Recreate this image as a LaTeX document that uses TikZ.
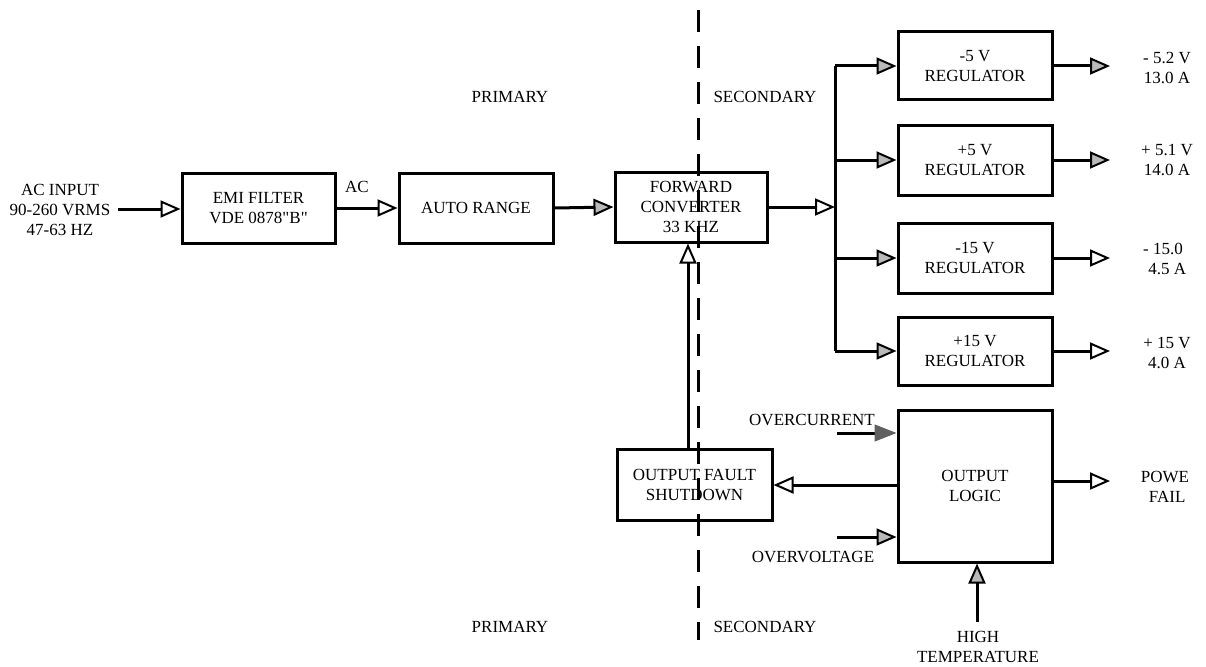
\documentclass[tikz,border=0pt]{standalone}
\usepackage{fontspec}
\setmainfont{Liberation Serif}[Ligatures=TeXOff]
\usetikzlibrary{arrows.meta}
\begin{document}
\begin{tikzpicture}[x=1pt,y=-1pt,
  every node/.style={font=\fontsize{17}{20}\selectfont, align=center, inner sep=0pt},
  blk/.style={draw, line width=3pt, rectangle, minimum width=153pt, minimum height=70pt},
  conn/.style={line width=3pt},
  oarr/.style={conn, -{Triangle[length=20pt, width=17pt, line width=2pt, fill=white]}},
  garr/.style={conn, -{Triangle[length=20pt, width=17pt, line width=2pt, fill=gray!55]}},
  carr/.style={conn, -{Triangle[length=22pt, width=17pt, line width=1pt, color=gray!75!black]}},
  divider/.style={line width=3pt, dash pattern=on 22pt off 14pt},
  lbl/.style={}
]
\useasboundingbox (0,0) rectangle (1206,666);

% primary / secondary divider
\coordinate (dtop) at (698,10);
\coordinate (dbot) at (698,640);
\draw[divider] (dtop) -- (dbot);
\node[lbl] (prim1) at (510,97) {PRIMARY};
\node[lbl] (sec1) at (765,97) {SECONDARY};
\node[lbl] (prim2) at (510,627) {PRIMARY};
\node[lbl] (sec2) at (765,627) {SECONDARY};

% main chain
\node[lbl] (acin) at (60,210) {AC INPUT\\90-260 VRMS\\47-63 HZ};
\node[blk] (emi) at (258.5,208) {EMI FILTER\\VDE 0878"B"};
\node[blk, minimum width=154pt] (auto) at (476,208) {AUTO RANGE};
\node[blk, minimum width=152pt] (fwd) at (691,207) {FORWARD\\CONVERTER\\33 KHZ};
\node[lbl] (aclbl) at (357,187) {AC};

\coordinate (acstart) at (118,209);
\draw[oarr] (acstart) -- (acstart -| emi.west);
\draw[oarr] (emi.east) -- (auto.west);
\draw[garr] (auto.east) -- (fwd.west);

% regulators
\node[blk, minimum width=154pt, minimum height=68pt] (r1) at (975,66) {-5 V\\REGULATOR};
\node[blk, minimum width=154pt] (r2) at (975,160) {+5 V\\REGULATOR};
\node[blk, minimum width=154pt] (r3) at (975,258) {-15 V\\REGULATOR};
\node[blk, minimum width=154pt, minimum height=68pt] (r4) at (975,351) {+15 V\\REGULATOR};

\coordinate (bt) at (835,66);
\coordinate (bb) at (835,351);
\draw[oarr] (fwd.east) -- (fwd.east -| bt);
\draw[conn] (bt) -- (bb);
\draw[garr] (bt) -- (r1.west);
\draw[garr] (bt |- r2.west) -- (r2.west);
\draw[garr] (bt |- r3.west) -- (r3.west);
\draw[garr] (bt |- r4.west) -- (r4.west);

\coordinate (oe) at (1110,0);
\draw[garr] (r1.east) -- (r1.east -| oe);
\draw[garr] (r2.east) -- (r2.east -| oe);
\draw[oarr] (r3.east) -- (r3.east -| oe);
\draw[oarr] (r4.east) -- (r4.east -| oe);
\node[lbl] (o1) at (1167,68) {- 5.2 V\\13.0 A};
\node[lbl] (o2) at (1167,160) {+ 5.1 V\\14.0 A};
\node[lbl] (o3) at (1163,259) {- 15.0\\\ \ 4.5 A};
\node[lbl] (o4) at (1167,353) {+ 15 V\\4.0 A};

% fault path
\node[blk, minimum width=155pt, minimum height=71pt] (shut) at (694.5,484.5) {OUTPUT FAULT\\SHUTDOWN};
\node[blk, minimum width=154pt, minimum height=152pt] (logic) at (975,486) {OUTPUT\\LOGIC};

\coordinate (vx) at (688,0);
\draw[oarr] (shut.north -| vx) -- (fwd.south -| vx);
\draw[oarr] (logic.west |- 0,485) -- (shut.east |- 0,485);

\node[lbl] (ocl) at (812,420) {OVERCURRENT};
\coordinate (ocs) at (837,433);
\draw[carr] (ocs) -- (ocs -| logic.west);
\node[lbl] (ovl) at (813,557) {OVERVOLTAGE};
\coordinate (ovs) at (837,537);
\draw[garr] (ovs) -- (ovs -| logic.west);

\coordinate (pf) at (1110,481);
\draw[oarr] (logic.east |- pf) -- (pf);
\node[lbl] (pfl) at (1165,487) {POWE\\\ FAIL};

\coordinate (hts) at (977,622);
\draw[garr] (hts) -- (hts |- logic.south);
\node[lbl] (htl) at (978,647) {HIGH\\TEMPERATURE};
\end{tikzpicture}
\end{document}
